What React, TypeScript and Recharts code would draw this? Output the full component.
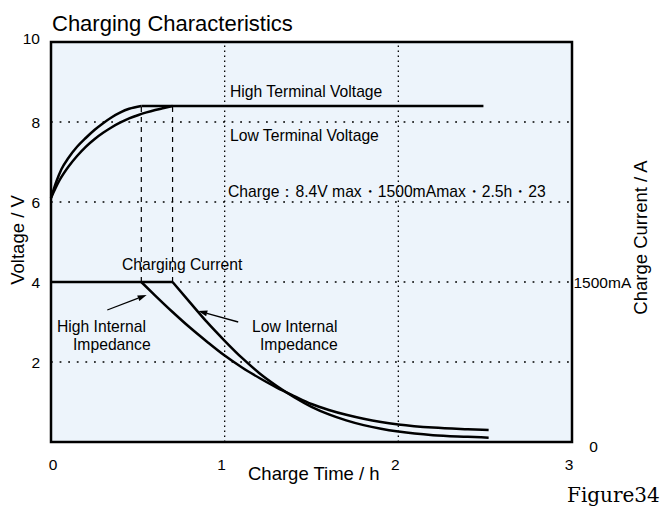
import React from 'react';
import { ComposedChart, Line, XAxis, YAxis, CartesianGrid, ReferenceLine, ReferenceArea } from 'recharts';

const FONT = '"Liberation Sans", Arial, sans-serif';

// terminal voltage during the constant-current phase (h, V)
const V_HIGH_T = [0, 0.03, 0.06, 0.1, 0.15, 0.2, 0.25, 0.3, 0.35, 0.4, 0.45, 0.52];
const V_HIGH = [6.1, 6.5, 6.82, 7.1, 7.38, 7.6, 7.8, 7.97, 8.12, 8.24, 8.33, 8.4];
const V_LOW_T = [0, 0.05, 0.1, 0.15, 0.2, 0.25, 0.3, 0.35, 0.4, 0.45, 0.5, 0.55, 0.6, 0.65, 0.7];
const V_LOW = [6.1, 6.55, 6.88, 7.15, 7.38, 7.57, 7.73, 7.87, 7.99, 8.09, 8.17, 8.24, 8.3, 8.35, 8.4];
const CV_LEVEL = 8.4;
const CV_END_T = 2.49;

// charging current (h, mA)
const CC_LEVEL = 1500;
const I_HIGH_T = [0.52, 0.6, 0.7, 0.8, 0.9, 1.0, 1.1, 1.2, 1.3, 1.4, 1.5, 1.6, 1.7, 1.8, 1.9, 2.0, 2.2, 2.4, 2.52];
const I_HIGH = [1500, 1373, 1219, 1073, 938, 810, 698, 600, 510, 431, 356, 300, 255, 218, 188, 165, 135, 120, 113];
const I_LOW_T = [0.7, 0.8, 0.9, 1.0, 1.1, 1.2, 1.3, 1.4, 1.5, 1.6, 1.7, 1.8, 1.9, 2.0, 2.2, 2.4, 2.52];
const I_LOW = [1500, 1309, 1121, 949, 788, 645, 525, 420, 330, 259, 203, 158, 124, 98, 64, 49, 41];

// axes
const T_TICKS = [0, 1, 2, 3];
const V_TICKS = [2, 4, 6, 8, 10];
const I_TICKS = [0, 1500];
const I_MAX = 3750; // 1500mA sits on the 4V line
const GRID_T = [1, 2];
const GRID_V = [2, 4, 6, 8];

// arrows: [fromT, fromV, toT, toV]
const ARROWS = [
  [0.324, 3.3, 0.551, 3.675],
  [1.078, 3.0, 0.848, 3.275],
];

const pts = (ts: number[], vs: number[]) => ts.map((t, i) => ({ t, v: vs[i] }));

const vHigh = pts(V_HIGH_T, V_HIGH);
const vLow = pts(V_LOW_T, V_LOW);
const vFlat = [
  { t: V_HIGH_T[V_HIGH_T.length - 1], v: CV_LEVEL },
  { t: CV_END_T, v: CV_LEVEL },
];
const iHigh = pts(I_HIGH_T, I_HIGH);
const iLow = pts(I_LOW_T, I_LOW);
const iFlat = [
  { t: 0, v: CC_LEVEL },
  { t: I_LOW_T[0], v: CC_LEVEL },
];
const SWITCH_T = [V_HIGH_T[V_HIGH_T.length - 1], V_LOW_T[V_LOW_T.length - 1]];

const XTick = ({ x, y, payload }: any) => (
  <text x={payload.value === 0 ? x + 2 : x - 3} y={y + 20} textAnchor="middle" fontSize={15.5} fontFamily={FONT} fill="#000">
    {payload.value}
  </text>
);

const VTick = ({ x, y, payload }: any) => (
  <text x={x - 3} y={payload.value === 10 ? y + 1.5 : y + 5.5} textAnchor="end" fontSize={15.5} fontFamily={FONT} fill="#000">
    {payload.value}
  </text>
);

const ITick = ({ x, y, payload }: any) =>
  payload.value === 0 ? (
    <text x={x + 13.5} y={y + 10} textAnchor="middle" fontSize={15.5} fontFamily={FONT} fill="#000">0</text>
  ) : (
    <text x={x - 6.5} y={y + 5.5} textAnchor="start" fontSize={15.5} fontFamily={FONT} fill="#000">
      {payload.value}mA
    </text>
  );

const Arrow = ({ x1, y1, x2, y2 }: any) => {
  const a = Math.atan2(y2 - y1, x2 - x1);
  const len = 9;
  const w = 3;
  const bx = x2 - len * Math.cos(a);
  const by = y2 - len * Math.sin(a);
  const px = -Math.sin(a) * w;
  const py = Math.cos(a) * w;
  return (
    <g>
      <line x1={x1} y1={y1} x2={bx} y2={by} stroke="#000" strokeWidth={1.3} />
      <polygon points={`${x2},${y2} ${bx + px},${by + py} ${bx - px},${by - py}`} fill="#000" />
    </g>
  );
};

const lineProps = {
  stroke: '#000',
  strokeWidth: 2.5,
  dot: false,
  activeDot: false,
  isAnimationActive: false,
  dataKey: 'v',
} as const;

const txt = { fontFamily: FONT, fill: '#000' };

export default function App() {
  return (
    <div style={{ position: 'absolute', left: 0, top: 0, width: 662, height: 506, background: '#fff' }}>
      <ComposedChart width={662} height={506} margin={{ top: 42, right: 30, bottom: 34, left: 11 }}>
        <CartesianGrid fill="#edf4fb" horizontal={false} vertical={false} />
        <XAxis
          type="number"
          dataKey="t"
          domain={[0, 3]}
          ticks={T_TICKS}
          height={30}
          axisLine={false}
          tickLine={false}
          tick={<XTick />}
        />
        <YAxis yAxisId="v" domain={[0, 10]} ticks={V_TICKS} width={40} axisLine={false} tickLine={false} tick={<VTick />} />
        <YAxis
          yAxisId="i"
          orientation="right"
          domain={[0, I_MAX]}
          ticks={I_TICKS}
          width={60}
          axisLine={false}
          tickLine={false}
          tick={<ITick />}
        />
        {GRID_T.map((t) => (
          <ReferenceLine key={`gt${t}`} yAxisId="v" x={t} stroke="#000" strokeWidth={1.3} strokeDasharray="1.5 3.5" />
        ))}
        {GRID_V.map((v) => (
          <ReferenceLine key={`gv${v}`} yAxisId="v" y={v} stroke="#000" strokeWidth={1.3} strokeDasharray="1.8 6.8" />
        ))}
        {SWITCH_T.map((t) => (
          <ReferenceLine
            key={`sw${t}`}
            yAxisId="v"
            segment={[{ x: t, y: 4 }, { x: t, y: CV_LEVEL }]}
            stroke="#000"
            strokeWidth={1.2}
            strokeDasharray="5 5"
          />
        ))}
        {ARROWS.map((a, i) => (
          <ReferenceLine
            key={`ar${i}`}
            yAxisId="v"
            segment={[{ x: a[0], y: a[1] }, { x: a[2], y: a[3] }]}
            shape={(p: any) => <Arrow {...p} />}
          />
        ))}
        <ReferenceArea yAxisId="v" x1={0} x2={3} y1={0} y2={10} fill="none" stroke="#000" strokeWidth={2.5} ifOverflow="visible" />
        <Line {...lineProps} yAxisId="v" data={vHigh} type="monotone" />
        <Line {...lineProps} yAxisId="v" data={vLow} type="monotone" />
        <Line {...lineProps} yAxisId="v" data={vFlat} type="linear" />
        <Line {...lineProps} yAxisId="i" data={iFlat} type="linear" />
        <Line {...lineProps} yAxisId="i" data={iHigh} type="monotone" />
        <Line {...lineProps} yAxisId="i" data={iLow} type="monotone" />
      </ComposedChart>
      <svg width={662} height={506} style={{ position: 'absolute', left: 0, top: 0, pointerEvents: 'none' }}>
        <text x={52} y={30.5} fontSize={22} {...txt}>Charging Characteristics</text>
        <g fontSize={15.7} {...txt}>
          <text x={230} y={97}>High Terminal Voltage</text>
          <text x={230} y={141}>Low Terminal Voltage</text>
          <text x={228} y={197}>Charge：8.4V max・1500mAmax・2.5h・23</text>
          <text x={122} y={270}>Charging Current</text>
          <text x={57} y={331.5}>High Internal</text>
          <text x={73} y={349.5}>Impedance</text>
          <text x={252} y={331.5}>Low Internal</text>
          <text x={260} y={349.5}>Impedance</text>
        </g>
        <g fontSize={18.5} {...txt}>
          <text x={248} y={480}>Charge Time / h</text>
          <text x={23.5} y={240} textAnchor="middle" transform="rotate(-90 23.5 240)">Voltage / V</text>
          <text x={647} y={237.5} textAnchor="middle" transform="rotate(-90 647 237.5)">Charge Current / A</text>
        </g>
        <text x={567} y={502} fontSize={20} fontFamily='"DejaVu Serif", serif' fill="#000">Figure34</text>
      </svg>
    </div>
  );
}
